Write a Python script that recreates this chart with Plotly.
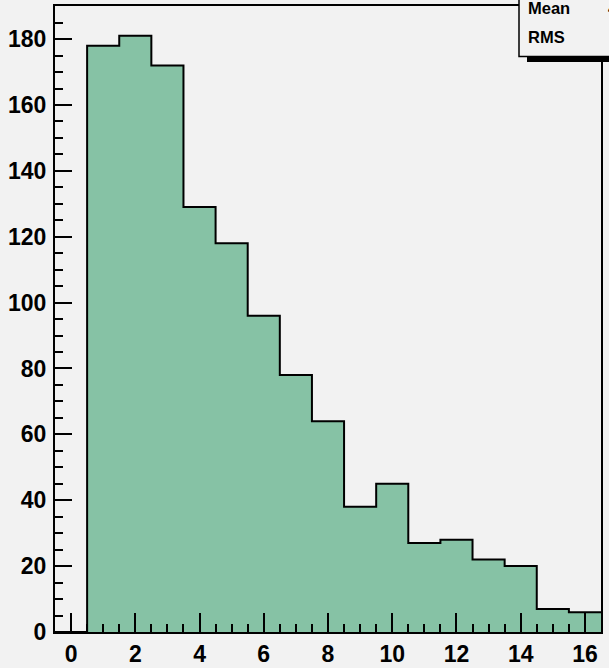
import numpy as np
import plotly.graph_objects as go

# Histogram data (bins centred on integers 0..16, width 1)
bin_centers = list(range(0, 17))
counts = [0, 178, 181, 172, 129, 118, 96, 78, 64, 38, 45, 27, 28, 22, 20, 7, 6]
x_ticks = list(range(0, 17, 2))
y_ticks = list(range(0, 181, 20))

BG = "#f2f2f2"
FILL = "#86c2a5"
FONT = "Liberation Sans"

edges = [c - 0.5 for c in bin_centers] + [bin_centers[-1] + 0.5]
step_y = counts + [counts[-1]]

n = sum(counts)
mean = sum(c * x for c, x in zip(counts, bin_centers)) / n
rms = np.sqrt(sum(c * x * x for c, x in zip(counts, bin_centers)) / n - mean ** 2)

fig = go.Figure()
fig.add_trace(go.Scatter(
    x=edges, y=step_y, mode="lines", line_shape="hv",
    line=dict(color="black", width=2),
    fill="tozeroy", fillcolor=FILL, hoverinfo="skip", showlegend=False,
))

W, H = 609, 668
L, R, T, B = 55, 8, 6, 36
pw, ph = W - L - R, H - T - B

def px_x(p):
    return (p - L) / pw

def px_y(p):
    return (H - B - p) / ph

fig.update_layout(
    width=W, height=H,
    paper_bgcolor=BG, plot_bgcolor=BG,
    margin=dict(l=L, r=R, t=T, b=B, autoexpand=False),
    font=dict(family=FONT, color="black"),
    xaxis=dict(
        range=[-0.5, 16.5], tickmode="array", tickvals=x_ticks,
        ticks="inside", ticklen=19, tickwidth=2, tickcolor="black",
        minor=dict(dtick=0.5, tick0=0, ticks="inside", ticklen=8, tickwidth=1.5, tickcolor="black"),
        showline=True, linewidth=2, linecolor="black", mirror=True,
        showgrid=False, zeroline=False,
        tickfont=dict(family=FONT, size=23, weight="bold", color="black"),
        ticklabelstandoff=0,
    ),
    yaxis=dict(
        range=[0, 190.05], tickmode="array", tickvals=y_ticks,
        ticks="inside", ticklen=17, tickwidth=2, tickcolor="black",
        minor=dict(dtick=5, tick0=0, ticks="inside", ticklen=8, tickwidth=1.5, tickcolor="black"),
        showline=True, linewidth=2, linecolor="black", mirror=True,
        showgrid=False, zeroline=False,
        tickfont=dict(family=FONT, size=23, weight="bold", color="black"),
        ticklabelstandoff=2,
    ),
    shapes=[
        dict(type="rect", xref="paper", yref="paper", layer="above",
             x0=px_x(527), x1=px_x(720), y0=px_y(62), y1=px_y(56),
             fillcolor="black", line=dict(width=0)),
        dict(type="rect", xref="paper", yref="paper", layer="above",
             x0=px_x(519), x1=px_x(720), y0=px_y(56.5), y1=px_y(-30),
             fillcolor=BG, line=dict(color="black", width=1.5)),
    ],
    annotations=[
        dict(text="<b>Mean</b>", xref="paper", yref="paper", x=px_x(526), y=px_y(8),
             xanchor="left", yanchor="middle", showarrow=False,
             font=dict(family=FONT, size=16.5, color="black")),
        dict(text="<b>RMS</b>", xref="paper", yref="paper", x=px_x(526), y=px_y(37),
             xanchor="left", yanchor="middle", showarrow=False,
             font=dict(family=FONT, size=16.5, color="black")),
        dict(text="<b>%.3f</b>" % mean, xref="paper", yref="paper", x=px_x(606), y=px_y(8),
             xanchor="left", yanchor="middle", showarrow=False,
             font=dict(family=FONT, size=16.5, color="black")),
        dict(text="<b>%.3f</b>" % rms, xref="paper", yref="paper", x=px_x(612), y=px_y(37),
             xanchor="left", yanchor="middle", showarrow=False,
             font=dict(family=FONT, size=16.5, color="black")),
    ],
)

fig.write_html(
    "out.html",
    config={"displayModeBar": False},
    post_script="document.body.style.margin='0';document.body.style.padding='0';document.body.style.overflow='hidden';",
)
